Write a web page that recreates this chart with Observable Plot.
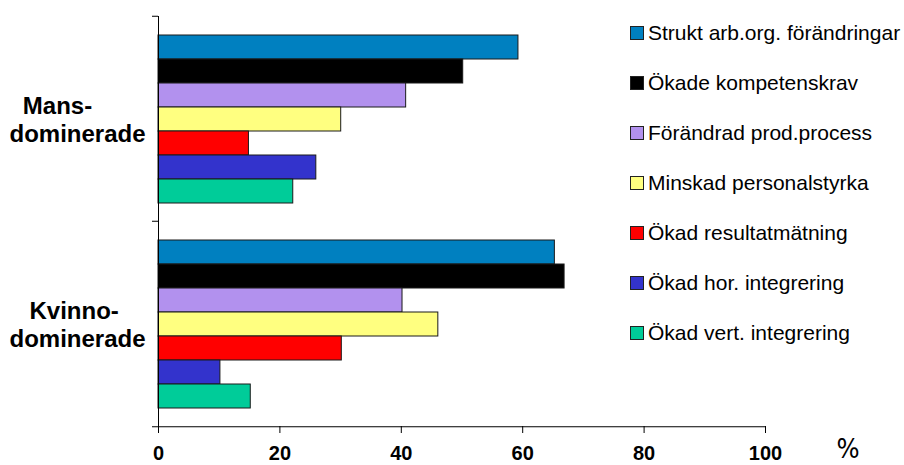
<!DOCTYPE html>
<html><head><meta charset="utf-8">
<script src="https://cdn.jsdelivr.net/npm/d3@7"></script>
<script src="https://cdn.jsdelivr.net/npm/@observablehq/plot@0.6"></script>
<style>
body{margin:0;background:#fff;}
#wrap{position:relative;width:904px;height:465px;font-family:"Liberation Sans",Arial,sans-serif;}
#legend .row{position:absolute;left:630px;display:flex;align-items:center;white-space:nowrap;font-size:21px;color:#000;transform:translateY(-50%);line-height:26px;}
#legend .sw{width:12px;height:12px;border:1px solid #222;margin-right:4px;flex:none;}
#pct{position:absolute;left:848px;top:435px;transform:translateX(-50%);font-family:"Liberation Sans Narrow","Arial Narrow","DejaVu Sans Condensed",sans-serif;font-size:27px;line-height:27px;color:#000;}
</style></head>
<body><div id="wrap"><div id="chart"></div><div id="legend"></div><div id="pct">%</div></div>
<script>
const groups = ["Mansdominerade", "Kvinnodominerade"];
const groupLabels = ["Mans-\u00a0\u00a0\u00a0\u00a0\u00a0\u00a0\ndominerade", "Kvinno-\u00a0\ndominerade"];
const series = ["Strukt arb.org. förändringar","Ökade kompetenskrav","Förändrad prod.process","Minskad personalstyrka","Ökad resultatmätning","Ökad hor. integrering","Ökad vert. integrering"];
const colors = ["#0080c0","#000000","#b291ee","#ffff80","#ff0000","#3333cc","#00cc99"];
const mansValues = [59.3, 50.2, 40.8, 30.1, 14.9, 26.0, 22.2];
const kvinnoValues = [65.3, 66.9, 40.2, 46.1, 30.2, 10.2, 15.2];
const xTicks = [0, 20, 40, 60, 80, 100];
const unitLabel = "%";

const data = [];
series.forEach((s, i) => {
  data.push({group: groups[0], series: s, value: mansValues[i]});
  data.push({group: groups[1], series: s, value: kvinnoValues[i]});
});

const W = 904, H = 465, mL = 158, mR = 139, mT = 15, mB = 39;
const fyStep = (H - mT - mB) / groups.length;

const plot = Plot.plot({
  width: W, height: H,
  marginLeft: mL, marginRight: mR, marginTop: mT, marginBottom: mB,
  style: {fontFamily: '"Liberation Sans",Arial,sans-serif', background: "white", color: "#000"},
  x: {domain: [0, 100], axis: null},
  y: {domain: series, paddingInner: 0, paddingOuter: 0.72, axis: null},
  fy: {domain: groups, padding: 0, axis: null},
  color: {domain: series, range: colors},
  marks: [
    Plot.barX(data, {x: "value", y: "series", fy: "group", fill: "series", stroke: "#1a1a1a", strokeWidth: 1}),
    Plot.ruleX([0], {stroke: "#000", strokeWidth: 1}),
    Plot.ruleY([groups[groups.length - 1]], {fy: d => d, y: null, x1: 0, x2: 100, dy: fyStep / 2, stroke: "#000"}),
    Plot.axisFy({anchor: "left", tickSize: 6, dy: -fyStep / 2, tickFormat: () => "", label: null, stroke: "#000"}),
    Plot.axisFy({anchor: "left", ticks: [groups[groups.length - 1]], tickSize: 6, dy: fyStep / 2, tickFormat: () => "", label: null, stroke: "#000"}),
    Plot.text(groups, {fy: d => d, text: (d, i) => groupLabels[i], frameAnchor: "left", dx: -81, textAnchor: "middle", fontSize: 24, fontWeight: "bold", lineHeight: 1.15, fill: "#000"}),
    Plot.axisX({anchor: "bottom", ticks: xTicks, tickSize: 7, tickPadding: 12, fontSize: 20, fontWeight: "bold", label: null, stroke: "#000", fill: "#000"})
  ]
});
document.getElementById("chart").appendChild(plot);

const legend = document.getElementById("legend");
series.forEach((s, i) => {
  const row = document.createElement("div");
  row.className = "row";
  row.style.top = (32.5 + 50 * i) + "px";
  const sw = document.createElement("span");
  sw.className = "sw";
  sw.style.background = colors[i];
  const t = document.createElement("span");
  t.textContent = s;
  row.appendChild(sw); row.appendChild(t);
  legend.appendChild(row);
});
document.getElementById("pct").textContent = unitLabel;
</script>
</body></html>
